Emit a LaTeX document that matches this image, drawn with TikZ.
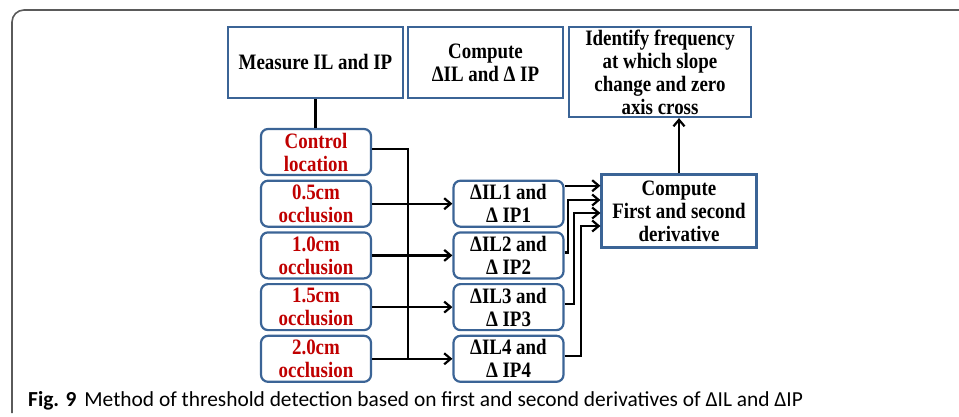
\documentclass[tikz,border=0pt]{standalone}
\usepackage{fontspec}
\setmainfont{Liberation Serif}
\newfontfamily\boxfont{Liberation Serif}[FakeStretch=0.86]
\newfontfamily\capfont{Carlito}
\usepackage{tikz}
\usetikzlibrary{arrows.meta,positioning,calc}
\definecolor{Edge}{HTML}{3B6496}
\definecolor{Red}{HTML}{C00000}
\definecolor{Frame}{HTML}{5A5A5A}

\begin{document}
\begin{tikzpicture}[x=1pt,y=-1pt,
    box/.style={draw=Edge,line width=2.2pt,fill=white,align=center,inner sep=1pt,
      font=\boxfont\fontsize{22}{23}\selectfont\bfseries},
    loc/.style={box,rounded corners=7pt,minimum width=110pt,minimum height=46pt,text=Red},
    dif/.style={box,rounded corners=7pt,minimum width=110pt,minimum height=46pt},
    wire/.style={line width=2.2pt,black},
    arr/.style={wire,-{Straight Barb[length=6.5pt,width=11pt]}}
  ]
    \useasboundingbox (0,0) rectangle (959,417);
    \draw[Frame,line width=1.6pt,rounded corners=12pt] (12,413) -- (12,10) -- (965,10);

    % top row
    \node[box,minimum width=175pt,minimum height=71pt] (meas) at (315.5,62.5) {Measure IL and IP};
    \node[box,minimum width=155pt,minimum height=71pt] (dcomp) at (485.5,62.5) {Compute\\ΔIL and Δ IP};
    \node[box,minimum width=182pt,minimum height=90pt] (ident) at (660,72) {Identify frequency\\at which slope\\change and zero\\axis cross};

    % locations and differences
    \node[loc] (ctrl) at (316,152) {Control\\location};
    \foreach \n/\t [remember=\n as \p (initially ctrl)] in {occ1/0.5,occ2/1.0,occ3/1.5,occ4/2.0}
      \node[loc,below=3.5pt of \p] (\n) {\t cm\\occlusion};
    \foreach \i in {1,...,4}{
      \node[dif] (dil\i) at (508.5,0 |- occ\i) {ΔIL\i{} and\\Δ IP\i};
      \draw[arr] (occ\i) -- (dil\i);
    }
    \node[box,minimum width=155pt,minimum height=73pt] (deriv) at (679,211) {Compute\\First and second\\derivative};

    \draw[wire] (meas.south) -- (meas.south |- ctrl.north);
    \draw[wire] ([yshift=3pt]ctrl.east) -| (408,0 |- occ4);
    \draw[arr] ([yshift=18pt]dil1.east) -- ([yshift=18pt]dil1.east -| deriv.west);
    \foreach \i/\d/\s in {2/32.5/11,3/26.5/-2,4/19.5/-15}
      \draw[arr] ([yshift=3pt]dil\i.east) -| ([xshift=-\d pt,yshift=\s pt]deriv.west) -- ([yshift=\s pt]deriv.west);
    \draw[arr] (deriv.north) -- (deriv.north |- ident.south);

    \node[anchor=base west,inner sep=0pt,font=\capfont\fontsize{21.4}{24}\selectfont] (cap) at (28,406)
      {\textbf{Fig. 9}\hspace{8pt}Method of threshold detection based on first and second derivatives of ΔIL and ΔIP};
  \end{tikzpicture}
\end{document}
